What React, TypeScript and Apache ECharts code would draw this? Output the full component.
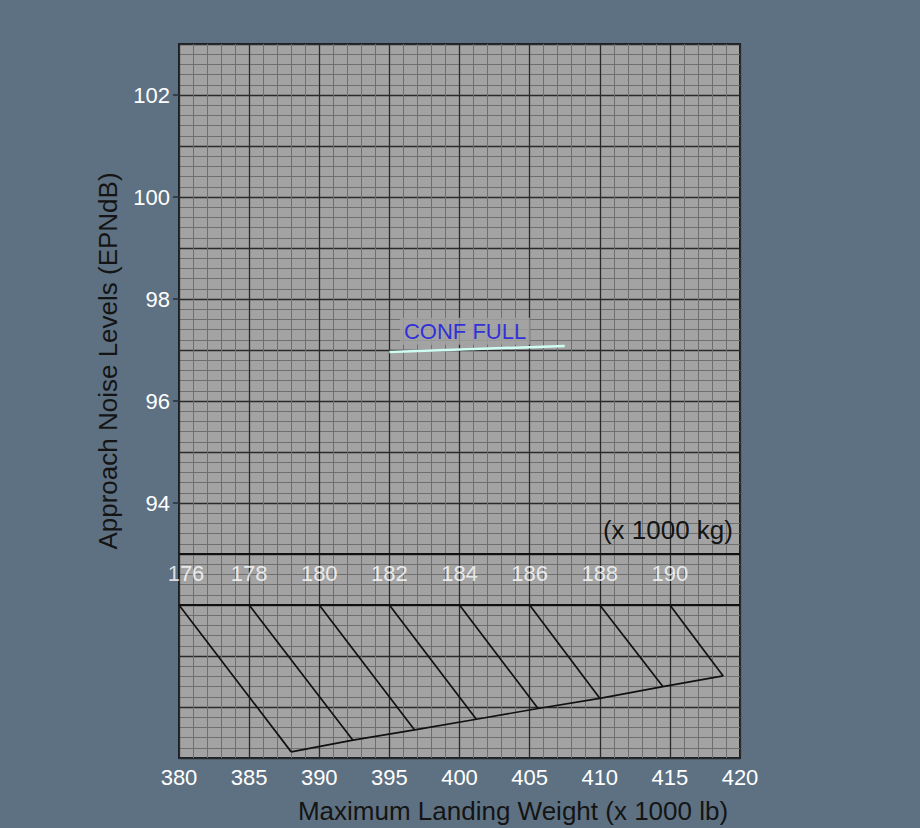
import React, { useEffect, useRef } from "react";
import * as echarts from "echarts";

// ---- data ----
const xMinLb = 380;
const xMaxLb = 420;
const xMajorStep = 5;
const yMinDb = 89;
const yMaxDb = 103;
const yLabelValues = [94, 96, 98, 100, 102];

// kg conversion band
const kgLabels = [176, 178, 180, 182, 184, 186, 188, 190];
const kgTopLb = [380, 385, 390, 395, 400, 405, 410, 415];
const kgBottomLb = [388.0, 392.4, 396.8, 401.2, 405.6, 410.0, 414.5, 418.8];
const kgBottomDb = [89.12, 89.35, 89.55, 89.76, 89.97, 90.17, 90.4, 90.61];
const scaleTopDb = 92;
const bandTopDb = 93;
const kgLabelDb = 92.62;

// CONF FULL line
const confFullLb = [395, 407.5];
const confFullDb = [96.96, 97.08];
const confLabelPos = [400.4, 97.37];
const confLabelText = "CONF FULL";

const FONT = "Liberation Sans, Arial, Helvetica, sans-serif";
const BG = "#5e7182";
const PLOT_BG = "#a3a3a3";

export default function App() {
  const ref = useRef<HTMLDivElement>(null);

  useEffect(() => {
    if (!ref.current) return;
    const chart = echarts.init(ref.current, null, { renderer: "svg" });

    const diagonals = kgTopLb.map((x, i) => ({
      coords: [
        [x, scaleTopDb],
        [kgBottomLb[i], kgBottomDb[i]],
      ],
    }));

    const option: any = {
      animation: false,
      backgroundColor: BG,
      textStyle: { fontFamily: FONT },
      grid: {
        left: 179,
        right: 180,
        top: 44,
        bottom: 70,
        show: true,
        backgroundColor: PLOT_BG,
        borderColor: "#1b1f24",
        borderWidth: 2,
        outerBoundsMode: "none",
        containLabel: false,
      },
      xAxis: {
        type: "value",
        min: xMinLb,
        max: xMaxLb,
        interval: xMajorStep,
        axisLine: { show: false },
        axisTick: { show: false },
        axisLabel: {
          color: "#ffffff",
          fontSize: 22,
          fontFamily: FONT,
          margin: 8,
        },
        splitLine: { show: true, lineStyle: { color: "#2a2a2a", width: 1.3 } },
        minorTick: { show: false, splitNumber: 5 },
        minorSplitLine: { show: true, lineStyle: { color: "#6f6f6f", width: 1 } },
      },
      yAxis: {
        type: "value",
        min: yMinDb,
        max: yMaxDb,
        interval: 1,
        axisLine: { show: false },
        axisTick: { show: false },
        axisLabel: {
          color: "#ffffff",
          fontSize: 22,
          fontFamily: FONT,
          margin: 9,
          formatter: (v: number) => (yLabelValues.includes(v) ? String(v) : ""),
        },
        splitLine: { show: true, lineStyle: { color: "#2a2a2a", width: 1.3 } },
        minorTick: { show: false, splitNumber: 5 },
        minorSplitLine: { show: true, lineStyle: { color: "#6f6f6f", width: 1 } },
      },
      series: [
        {
          type: "line",
          data: [],
          silent: true,
          markLine: {
            silent: true,
            symbol: "none",
            label: { show: false },
            lineStyle: { color: "#111111", width: 2, type: "solid" },
            data: [{ yAxis: bandTopDb }, { yAxis: scaleTopDb }],
          },
        },
        {
          type: "lines",
          coordinateSystem: "cartesian2d",
          silent: true,
          lineStyle: { color: "#111111", width: 1.7, opacity: 1 },
          data: diagonals,
        },
        {
          type: "line",
          silent: true,
          showSymbol: false,
          symbol: "none",
          lineStyle: { color: "#111111", width: 1.7 },
          data: kgBottomLb.map((x, i) => [x, kgBottomDb[i]]),
        },
        {
          type: "line",
          silent: true,
          showSymbol: false,
          symbol: "none",
          lineStyle: { color: "#cffff2", width: 2.5 },
          data: confFullLb.map((x, i) => [x, confFullDb[i]]),
          z: 5,
        },
        {
          type: "scatter",
          silent: true,
          symbolSize: 0,
          data: [confLabelPos],
          label: {
            show: true,
            position: "inside",
            formatter: confLabelText,
            color: "#1010e8",
            fontSize: 22,
            fontFamily: FONT,
            backgroundColor: PLOT_BG,
            padding: [3, 4, 2, 4],
          },
          z: 6,
        },
        {
          type: "scatter",
          silent: true,
          symbolSize: 0,
          data: kgTopLb.map((x, i) => ({
            value: [x, kgLabelDb, kgLabels[i]],
            label: i === 0 ? { offset: [7, 0] } : undefined,
          })),
          label: {
            show: true,
            position: "inside",
            formatter: (p: any) => String(p.value[2]),
            color: "#ffffff",
            fontSize: 22,
            fontFamily: FONT,
          },
          z: 6,
        },
        {
          type: "custom",
          silent: true,
          clip: false,
          data: yLabelValues.map((v) => [xMinLb, v]),
          renderItem: (params: any, api: any) => {
            const p = api.coord([api.value(0), api.value(1)]);
            return {
              type: "line",
              shape: { x1: p[0] - 6, y1: p[1], x2: p[0], y2: p[1] },
              style: { stroke: "#2a2f35", lineWidth: 1.5 },
            };
          },
          z: 7,
        },
      ],
      graphic: [
        {
          type: "text",
          x: 733,
          y: 530,
          style: {
            text: "(x 1000 kg)",
            fill: "#141414",
            fontSize: 26,
            fontFamily: FONT,
            align: "right",
            verticalAlign: "middle",
          },
          z: 10,
        },
        {
          type: "text",
          x: 513,
          y: 811,
          style: {
            text: "Maximum Landing Weight (x 1000 lb)",
            fill: "#141414",
            fontSize: 26,
            fontFamily: FONT,
            align: "center",
            verticalAlign: "middle",
          },
        },
        {
          type: "text",
          x: 108,
          y: 361,
          rotation: Math.PI / 2,
          style: {
            text: "Approach Noise Levels (EPNdB)",
            fill: "#141414",
            fontSize: 26,
            fontFamily: FONT,
            align: "center",
            verticalAlign: "middle",
          },
        },
      ],
    };

    chart.setOption(option);
    return () => chart.dispose();
  }, []);

  return (
    <div
      ref={ref}
      style={{ position: "fixed", left: 0, top: 0, width: 920, height: 828 }}
    />
  );
}
